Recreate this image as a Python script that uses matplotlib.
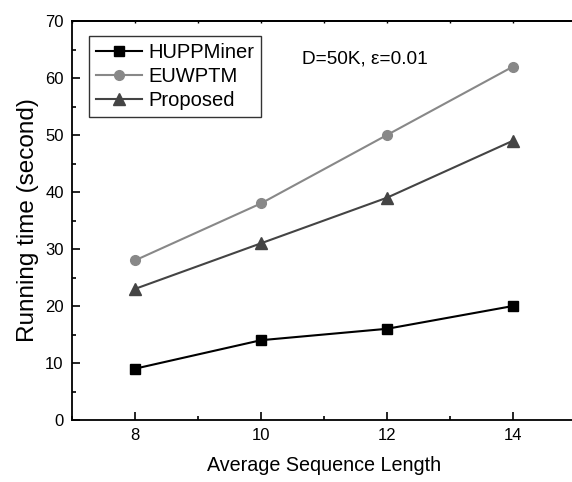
import matplotlib
matplotlib.use("Agg")
import matplotlib.pyplot as plt
from matplotlib.ticker import MultipleLocator

plt.rcParams['font.family'] = ['Liberation Sans', 'DejaVu Sans']

x = [8, 10, 12, 14]
huppminer = [9, 14, 16, 20]
euwptm = [28, 38, 50, 62]
proposed = [23, 31, 39, 49]

W, H = 572, 482
fig = plt.figure(figsize=(W/100, H/100), dpi=100)
left, right, top, bottom = 72, 72 + 8*63, 21, 420
ax = fig.add_axes([left/W, 1 - bottom/H, (right-left)/W, (bottom-top)/H])

ax.plot(x, huppminer, color='black', marker='s', markersize=6.5, lw=1.5, label='HUPPMiner')
ax.plot(x, euwptm, color='#888888', marker='o', markersize=7, lw=1.5, label='EUWPTM')
ax.plot(x, proposed, color='#444444', marker='^', markersize=8, lw=1.5, label='Proposed')

ax.set_xlim(7, 15)
ax.set_ylim(0, 70)
ax.xaxis.set_major_locator(MultipleLocator(2))
ax.xaxis.set_minor_locator(MultipleLocator(1))
ax.yaxis.set_major_locator(MultipleLocator(10))
ax.yaxis.set_minor_locator(MultipleLocator(5))
ax.tick_params(which='both', direction='in', labelsize=12, width=1.2)
ax.tick_params(which='major', length=6, pad=6)
ax.tick_params(which='minor', length=3)
ax.spines['right'].set_visible(False)
for s in ax.spines.values():
    s.set_linewidth(1.3)

# tiny ticks on the top axis
sec = ax.secondary_xaxis('top')
sec.xaxis.set_major_locator(MultipleLocator(1))
sec.tick_params(direction='in', length=1.5, width=1.0, labeltop=False)
sec.spines['top'].set_linewidth(1.3)

ax.set_xlabel('Average Sequence Length', fontsize=14.2, labelpad=9)
ax.set_ylabel('Running time (second)', fontsize=17.5, labelpad=4)

leg = ax.legend(loc='upper left', bbox_to_anchor=((89-72)/504, (420-36)/399),
                borderaxespad=0, fontsize=14.5,
                frameon=True, fancybox=False, edgecolor='black', handlelength=2.3,
                borderpad=0.35, labelspacing=0.25, handletextpad=0.3)
leg.get_frame().set_linewidth(1.0)

ax.text(10.65, 63.3, 'D=50K, ε=0.01', fontsize=13.7, ha='left', va='center')

fig.savefig('out.png', dpi=100)
